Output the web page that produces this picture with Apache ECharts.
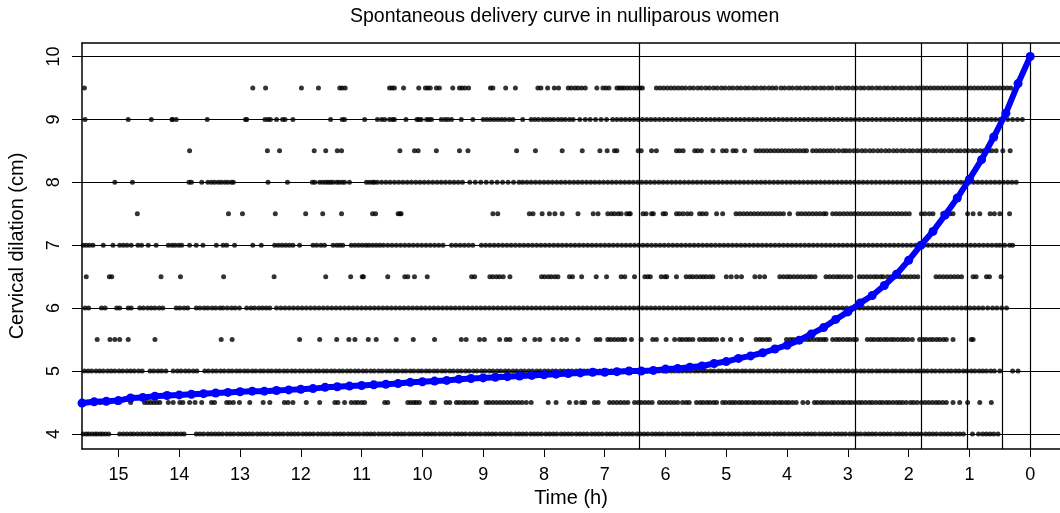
<!DOCTYPE html>
<html>
<head>
<meta charset="utf-8">
<script src="https://cdn.jsdelivr.net/npm/echarts@6/dist/echarts.min.js"></script>
<style>html,body{margin:0;padding:0;background:#fff;}#c{width:1060px;height:513px;}</style>
</head>
<body>
<div id="c"></div>
<script>
const titleText = "Spontaneous delivery curve in nulliparous women";
const xName = "Time (h)";
const yName = "Cervical dilation (cm)";
const xTicks = [0,1,2,3,4,5,6,7,8,9,10,11,12,13,14,15];
const yTicks = [4,5,6,7,8,9,10];
const hLines = [4,5,6,7,8,9,10];
const vLines = [6.43,2.88,1.80,1.04,0.46,0];

const curveT = [15.6,15.4,15.2,15.0,14.8,14.6,14.4,14.2,14.0,13.8,13.6,13.4,13.2,13.0,12.8,12.6,12.4,12.2,12.0,11.8,11.6,11.4,11.2,11.0,10.8,10.6,10.4,10.2,10.0,9.8,9.6,9.4,9.2,9.0,8.8,8.6,8.4,8.2,8.0,7.8,7.6,7.4,7.2,7.0,6.8,6.6,6.4,6.2,6.0,5.8,5.6,5.4,5.2,5.0,4.8,4.6,4.4,4.2,4.0,3.8,3.6,3.4,3.2,3.0,2.8,2.6,2.4,2.2,2.0,1.8,1.6,1.4,1.2,1.0,0.8,0.6,0.4,0.2,0.0];
const curveY = [4.49,4.51,4.52,4.53,4.57,4.58,4.60,4.61,4.62,4.63,4.64,4.65,4.66,4.67,4.68,4.68,4.69,4.70,4.71,4.72,4.74,4.75,4.76,4.77,4.78,4.79,4.80,4.82,4.83,4.84,4.85,4.87,4.88,4.89,4.90,4.91,4.92,4.93,4.94,4.95,4.96,4.97,4.98,4.98,4.99,5.00,5.00,5.01,5.03,5.04,5.06,5.08,5.12,5.15,5.20,5.24,5.29,5.35,5.41,5.49,5.59,5.69,5.82,5.94,6.08,6.20,6.36,6.54,6.76,7.00,7.22,7.48,7.75,8.05,8.36,8.72,9.10,9.57,10.0];

const d40 = [15.58,15.53,15.49,15.44,15.39,15.35,15.30,15.26,15.21,15.16,14.98,14.92,14.86,14.80,14.75,14.69,14.63,14.58,14.52,14.47,14.41,14.36,14.30,14.25,14.19,14.14,14.08,14.03,13.97,13.92,13.72,13.66,13.60,13.53,13.47,13.41,13.35,13.29,13.22,13.16,13.10,13.03,12.97,12.91,12.85,12.79,12.72,12.66,12.60,12.54,12.47,12.41,12.35,12.29,12.22,12.16,12.10,12.04,11.97,11.91,11.85,11.79,11.72,11.66,11.60,11.54,11.47,11.41,11.35,11.29,11.22,11.16,11.10,11.04,10.97,10.91,10.85,10.79,10.72,10.66,10.60,10.54,10.47,10.41,10.35,10.29,10.22,10.16,10.10,10.04,9.97,9.91,9.85,9.79,9.72,9.66,9.60,9.54,9.47,9.41,9.35,9.29,9.22,9.16,9.10,9.04,8.97,8.91,8.85,8.79,8.72,8.66,8.60,8.54,8.47,8.41,8.35,8.29,8.22,8.16,8.10,8.04,7.97,7.91,7.85,7.79,7.72,7.66,7.60,7.54,7.47,7.41,7.35,7.29,7.22,7.16,7.10,7.04,6.97,6.91,6.85,6.79,6.72,6.66,6.60,6.54,6.47,6.41,6.35,6.29,6.22,6.16,6.10,6.04,5.97,5.91,5.85,5.79,5.72,5.66,5.60,5.54,5.47,5.41,5.35,5.29,5.22,5.16,5.10,5.04,4.97,4.91,4.85,4.79,4.72,4.66,4.60,4.54,4.47,4.41,4.35,4.29,4.22,4.16,4.10,4.04,3.97,3.91,3.85,3.79,3.72,3.66,3.60,3.54,3.47,3.41,3.35,3.29,3.22,3.16,3.10,3.04,2.97,2.91,2.85,2.79,2.72,2.66,2.60,2.54,2.47,2.41,2.35,2.29,2.22,2.16,2.10,2.04,1.97,1.91,1.85,1.79,1.72,1.66,1.60,1.54,1.47,1.41,1.35,1.29,1.22,1.16,1.10,0.95,0.85,0.78,0.72,0.66,0.60,0.53];
const d45 = [15.50,15.30,15.02,14.80,14.57,14.52,14.47,14.42,14.37,14.32,14.18,14.10,13.99,13.94,13.83,13.74,13.63,13.47,13.42,13.22,13.17,13.11,13.01,12.84,12.62,12.51,12.27,12.21,12.13,11.91,11.69,11.44,11.39,11.28,11.17,11.11,11.06,11.00,10.95,10.62,10.57,10.24,10.19,10.14,10.10,10.05,9.85,9.80,9.61,9.55,9.44,9.39,9.33,9.28,9.22,9.16,9.11,8.95,8.90,8.84,8.78,8.72,8.66,8.60,8.54,8.48,8.42,8.36,8.29,8.21,7.93,7.80,7.58,7.47,7.38,7.33,7.17,7.11,6.92,6.86,6.80,6.74,6.68,6.62,6.51,6.45,6.40,6.34,6.28,6.22,6.10,6.04,5.98,5.92,5.86,5.80,5.72,5.66,5.61,5.49,5.43,5.38,5.32,5.27,5.21,5.16,5.06,5.01,4.95,4.90,4.85,4.79,4.74,4.68,4.63,4.57,4.52,4.46,4.41,4.35,4.30,4.24,4.19,4.13,4.08,4.02,3.97,3.91,3.85,3.74,3.66,3.55,3.50,3.44,3.39,3.33,3.27,3.22,3.16,3.10,3.05,2.99,2.94,2.88,2.82,2.77,2.71,2.65,2.60,2.54,2.48,2.43,2.37,2.32,2.26,2.20,2.15,2.10,2.04,1.97,1.92,1.86,1.79,1.73,1.67,1.61,1.55,1.50,1.44,1.38,1.27,1.16,1.03,0.83,0.64];
const d50 = [15.56,15.50,15.44,15.37,15.31,15.25,15.18,15.12,15.06,14.99,14.93,14.86,14.80,14.74,14.67,14.61,14.48,14.42,14.35,14.29,14.22,14.10,14.03,13.97,13.90,13.84,13.77,13.71,13.58,13.52,13.45,13.39,13.32,13.26,13.19,13.13,13.06,13.00,12.93,12.87,12.80,12.74,12.67,12.61,12.54,12.48,12.41,12.35,12.28,12.22,12.15,12.09,12.02,11.96,11.89,11.83,11.76,11.70,11.63,11.57,11.50,11.44,11.37,11.31,11.24,11.18,11.11,11.05,10.98,10.92,10.85,10.79,10.72,10.66,10.59,10.53,10.46,10.40,10.33,10.27,10.20,10.14,10.07,10.01,9.94,9.88,9.81,9.75,9.68,9.62,9.55,9.49,9.42,9.36,9.29,9.23,9.16,9.10,9.03,8.97,8.90,8.84,8.77,8.71,8.64,8.58,8.51,8.45,8.38,8.32,8.25,8.19,8.12,8.06,7.99,7.93,7.86,7.80,7.73,7.67,7.60,7.54,7.47,7.41,7.34,7.28,7.21,7.15,7.08,7.02,6.95,6.89,6.82,6.76,6.69,6.63,6.56,6.50,6.43,6.37,6.30,6.24,6.17,6.11,6.04,5.98,5.91,5.85,5.78,5.72,5.65,5.59,5.52,5.46,5.39,5.33,5.26,5.20,5.13,5.07,5.00,4.94,4.87,4.81,4.74,4.68,4.61,4.55,4.48,4.42,4.35,4.29,4.22,4.16,4.09,4.03,3.96,3.90,3.83,3.77,3.70,3.64,3.57,3.51,3.44,3.38,3.31,3.25,3.18,3.12,3.05,2.99,2.92,2.86,2.79,2.73,2.66,2.60,2.53,2.47,2.40,2.34,2.27,2.21,2.14,2.08,2.01,1.95,1.88,1.82,1.75,1.69,1.62,1.56,1.49,1.43,1.36,1.30,1.23,1.17,1.10,1.04,0.97,0.91,0.84,0.78,0.72,0.65,0.59,0.50,0.29,0.20];
const d55 = [15.35,15.14,15.06,14.98,14.84,14.40,13.31,13.13,12.02,11.69,11.41,11.21,11.11,10.89,10.76,10.43,10.15,9.80,9.36,9.28,9.06,8.98,8.73,8.62,8.56,8.32,8.15,8.07,7.85,7.71,7.63,7.44,7.14,7.08,6.95,6.90,6.84,6.78,6.72,6.67,6.56,6.40,6.21,6.15,5.99,5.85,5.77,5.72,5.66,5.61,5.55,5.44,5.38,5.33,5.27,5.22,5.16,5.06,4.93,4.75,4.51,4.45,4.40,4.34,4.29,4.01,3.95,3.90,3.84,3.78,3.73,3.67,3.62,3.56,3.50,3.45,3.40,3.36,3.25,3.19,3.14,3.08,3.02,2.97,2.91,2.86,2.68,2.62,2.57,2.51,2.46,2.40,2.35,2.29,2.24,2.18,2.12,2.07,2.01,1.94,1.82,1.76,1.71,1.65,1.60,1.54,1.49,1.43,1.38,1.27,0.97,0.94];
const d60 = [15.55,15.49,15.28,15.22,15.03,14.98,14.84,14.79,14.65,14.59,14.52,14.46,14.40,14.33,14.27,14.05,13.99,13.92,13.86,13.72,13.66,13.59,13.53,13.46,13.40,13.33,13.28,13.21,13.14,13.08,13.01,12.89,12.82,12.76,12.69,12.63,12.57,12.51,12.40,12.33,12.26,12.19,12.12,12.05,11.98,11.91,11.84,11.77,11.70,11.63,11.56,11.49,11.42,11.35,11.28,11.21,11.14,11.07,11.00,10.93,10.86,10.79,10.72,10.65,10.58,10.51,10.44,10.37,10.30,10.23,10.16,10.09,10.02,9.95,9.88,9.81,9.74,9.67,9.60,9.53,9.46,9.39,9.32,9.25,9.18,9.11,9.04,8.97,8.90,8.83,8.76,8.69,8.62,8.55,8.48,8.41,8.34,8.27,8.20,8.13,8.06,7.99,7.92,7.85,7.78,7.71,7.64,7.57,7.50,7.43,7.36,7.29,7.22,7.15,7.08,7.01,6.94,6.87,6.80,6.73,6.66,6.59,6.52,6.45,6.38,6.31,6.24,6.17,6.10,6.03,5.96,5.89,5.82,5.75,5.68,5.61,5.54,5.47,5.40,5.33,5.26,5.19,5.12,5.05,4.98,4.91,4.84,4.77,4.70,4.63,4.56,4.49,4.42,4.35,4.28,4.21,4.14,4.07,4.00,3.93,3.86,3.79,3.72,3.65,3.58,3.51,3.44,3.37,3.30,3.23,3.16,3.09,3.02,2.95,2.88,2.81,2.74,2.67,2.60,2.53,2.46,2.39,2.32,2.25,2.18,2.11,2.04,1.97,1.90,1.83,1.76,1.69,1.62,1.55,1.48,1.41,1.34,1.27,1.20,1.13,1.06,0.99,0.92,0.85,0.78,0.70,0.62,0.55,0.47,0.39];
const d65 = [15.53,15.15,15.11,14.30,13.98,13.27,12.44,11.59,11.18,10.99,10.97,10.57,10.29,10.24,10.13,9.92,9.19,9.14,8.89,8.84,8.78,8.73,8.67,8.56,8.04,7.99,7.93,7.88,7.82,7.77,7.58,7.53,7.38,7.14,6.97,6.73,6.67,6.51,6.34,6.29,6.25,6.07,6.01,5.98,5.82,5.66,5.60,5.55,5.49,5.43,5.38,5.33,5.27,5.22,5.00,4.92,4.83,4.75,4.53,4.45,4.37,4.12,4.06,4.00,3.95,3.89,3.83,3.77,3.71,3.65,3.60,3.54,3.36,3.30,3.24,3.18,3.13,3.07,3.01,2.95,2.81,2.75,2.69,2.63,2.57,2.52,2.46,2.42,2.35,2.29,2.22,2.15,2.09,2.03,1.97,1.91,1.85,1.55,1.49,1.43,1.37,1.31,1.25,1.19,1.13,0.94,0.89,0.72,0.67,0.48];
const d70 = [15.58,15.53,15.48,15.42,15.25,15.09,14.98,14.92,14.86,14.79,14.68,14.62,14.51,14.38,14.18,14.12,14.07,14.01,13.96,13.83,13.72,13.61,13.39,13.28,13.22,13.09,12.79,12.65,12.43,12.37,12.31,12.25,12.19,12.13,12.02,11.80,11.74,11.67,11.61,11.47,11.41,11.36,11.31,11.17,11.11,11.05,10.99,10.93,10.88,10.82,10.76,10.70,10.64,10.57,10.50,10.43,10.36,10.29,10.22,10.15,10.08,10.01,9.94,9.87,9.80,9.73,9.66,9.52,9.45,9.38,9.31,9.24,9.17,9.03,8.96,8.89,8.82,8.75,8.68,8.61,8.54,8.47,8.40,8.33,8.26,8.19,8.12,8.05,7.98,7.91,7.84,7.77,7.70,7.63,7.56,7.49,7.42,7.35,7.28,7.21,7.14,7.07,7.00,6.93,6.86,6.79,6.72,6.65,6.58,6.51,6.44,6.37,6.30,6.23,6.16,6.09,6.02,5.95,5.88,5.81,5.74,5.67,5.60,5.53,5.46,5.39,5.32,5.25,5.18,5.11,5.04,4.97,4.90,4.83,4.76,4.69,4.62,4.55,4.48,4.41,4.34,4.27,4.20,4.13,4.06,3.99,3.92,3.85,3.78,3.71,3.64,3.57,3.50,3.43,3.36,3.29,3.22,3.15,3.08,3.01,2.94,2.87,2.80,2.73,2.66,2.59,2.52,2.45,2.38,2.31,2.24,2.17,2.10,2.03,1.96,1.89,1.82,1.75,1.68,1.61,1.54,1.47,1.40,1.33,1.26,1.19,1.12,1.05,0.98,0.91,0.84,0.77,0.70,0.63,0.56,0.50,0.42,0.34,0.29];
const d75 = [14.69,13.19,12.96,12.42,11.92,11.64,11.33,10.82,10.77,10.40,10.37,10.35,8.84,8.76,8.24,8.18,8.03,7.91,7.82,7.70,7.44,7.19,7.11,6.95,6.89,6.84,6.78,6.73,6.64,6.60,6.58,6.37,6.32,6.23,6.20,6.04,6.00,5.82,5.77,5.71,5.64,5.58,5.44,5.39,5.33,5.16,5.06,4.84,4.78,4.72,4.66,4.60,4.54,4.48,4.42,4.36,4.30,4.24,4.18,4.12,4.06,3.96,3.82,3.76,3.70,3.64,3.58,3.52,3.46,3.40,3.36,3.25,3.19,3.13,3.07,3.01,2.95,2.89,2.83,2.77,2.71,2.65,2.59,2.53,2.47,2.41,2.35,2.29,2.23,2.17,2.11,2.05,1.99,1.79,1.73,1.66,1.60,1.44,1.38,1.32,1.27,1.03,0.94,0.83,0.66,0.59,0.50,0.34];
const d80 = [15.06,14.77,13.84,13.80,13.63,13.53,13.47,13.42,13.36,13.31,13.25,13.20,13.14,13.11,12.54,12.22,11.81,11.77,11.69,11.64,11.59,11.55,11.51,11.47,11.41,11.37,11.32,11.28,11.20,10.92,10.87,10.82,10.79,10.74,10.67,10.60,10.53,10.46,10.39,10.32,10.25,10.18,10.11,10.04,9.97,9.90,9.83,9.76,9.69,9.62,9.55,9.48,9.41,9.34,9.22,9.13,9.04,8.95,8.86,8.77,8.68,8.59,8.50,8.41,8.35,8.28,8.21,8.14,8.07,8.00,7.93,7.86,7.79,7.72,7.65,7.58,7.51,7.44,7.37,7.30,7.23,7.16,7.09,7.02,6.95,6.88,6.81,6.74,6.67,6.60,6.53,6.46,6.39,6.32,6.25,6.18,6.11,6.04,5.97,5.90,5.83,5.76,5.69,5.62,5.55,5.48,5.41,5.34,5.27,5.20,5.13,5.06,4.99,4.92,4.85,4.78,4.71,4.64,4.57,4.50,4.43,4.36,4.29,4.22,4.15,4.08,4.01,3.94,3.87,3.80,3.73,3.66,3.59,3.52,3.45,3.38,3.31,3.24,3.17,3.10,3.03,2.96,2.89,2.82,2.75,2.68,2.61,2.54,2.47,2.40,2.33,2.26,2.19,2.12,2.05,1.98,1.91,1.84,1.77,1.70,1.63,1.56,1.49,1.42,1.35,1.28,1.21,1.14,1.07,1.00,0.93,0.86,0.79,0.72,0.65,0.58,0.51,0.44,0.37,0.30,0.23];
const d85 = [13.83,12.55,12.35,11.78,11.59,11.40,11.33,10.37,10.13,10.07,9.77,9.39,9.25,8.45,8.14,7.70,7.37,7.08,6.96,6.84,6.80,6.45,6.40,6.23,6.15,5.82,5.77,5.71,5.52,5.47,5.41,5.22,5.06,5.00,4.89,4.84,4.70,4.51,4.45,4.39,4.33,4.27,4.21,4.15,4.09,4.03,3.97,3.91,3.85,3.79,3.73,3.68,3.58,3.52,3.46,3.40,3.34,3.28,3.22,3.15,3.08,3.03,2.97,2.90,2.84,2.77,2.71,2.64,2.58,2.51,2.45,2.38,2.32,2.25,2.19,2.12,2.06,1.99,1.93,1.86,1.80,1.73,1.67,1.60,1.54,1.47,1.41,1.34,1.28,1.21,1.15,1.08,1.02,0.95,0.89,0.82,0.76,0.69,0.63,0.56,0.45,0.33];
const d90 = [15.55,14.84,14.46,14.12,14.11,14.05,13.54,12.91,12.89,12.59,12.54,12.50,12.40,12.30,12.26,12.13,11.51,11.32,11.28,10.95,10.74,10.67,10.62,10.54,10.49,10.46,10.27,10.09,10.06,10.02,9.93,9.89,9.85,9.69,9.63,9.58,9.52,9.36,9.17,9.00,8.94,8.88,8.82,8.76,8.70,8.64,8.57,8.51,8.35,8.21,8.15,8.09,8.02,7.96,7.90,7.84,7.77,7.71,7.65,7.58,7.52,7.41,7.32,7.24,7.15,7.06,6.97,6.87,6.80,6.73,6.66,6.59,6.52,6.45,6.38,6.31,6.24,6.17,6.10,6.03,5.96,5.89,5.82,5.75,5.68,5.61,5.54,5.47,5.40,5.33,5.26,5.19,5.12,5.05,4.98,4.91,4.84,4.77,4.70,4.63,4.56,4.49,4.42,4.35,4.28,4.21,4.14,4.07,4.00,3.93,3.86,3.79,3.72,3.65,3.58,3.51,3.44,3.37,3.30,3.23,3.16,3.09,3.02,2.95,2.88,2.81,2.74,2.67,2.60,2.53,2.46,2.39,2.32,2.25,2.18,2.11,2.04,1.97,1.90,1.83,1.76,1.69,1.62,1.55,1.48,1.41,1.34,1.27,1.20,1.13,1.06,0.99,0.92,0.85,0.78,0.71,0.64,0.57,0.50,0.37,0.29,0.21,0.13];
const d95 = [15.56,12.79,12.58,11.99,11.71,11.36,11.32,11.27,10.54,10.50,10.46,10.31,10.06,9.95,9.91,9.87,9.77,9.72,9.50,9.39,9.35,9.30,9.24,8.88,8.84,8.63,8.47,8.10,8.05,7.94,7.83,7.76,7.60,7.55,7.49,7.44,7.38,7.32,7.13,7.03,6.98,6.93,6.80,6.76,6.72,6.68,6.63,6.58,6.52,6.47,6.42,6.38,6.15,6.09,6.03,5.97,5.91,5.85,5.79,5.73,5.67,5.60,5.54,5.47,5.41,5.34,5.28,5.21,5.15,5.08,5.02,4.95,4.89,4.82,4.76,4.69,4.63,4.56,4.50,4.43,4.37,4.30,4.24,4.18,4.10,4.04,3.97,3.91,3.84,3.78,3.71,3.65,3.58,3.52,3.45,3.39,3.32,3.26,3.18,3.12,3.05,2.99,2.92,2.86,2.79,2.73,2.66,2.60,2.53,2.47,2.40,2.34,2.27,2.21,2.14,2.08,2.01,1.95,1.88,1.82,1.76,1.70,1.64,1.58,1.52,1.46,1.40,1.34,1.28,1.22,1.16,1.10,1.04,0.98,0.92,0.86,0.80,0.74,0.68,0.62,0.56,0.50,0.44,0.38,0.32];

const levels = [4,4.5,5,5.5,6,6.5,7,7.5,8,8.5,9,9.5];
const levelData = [d40,d45,d50,d55,d60,d65,d70,d75,d80,d85,d90,d95];

const pts = [];
levels.forEach((lv, i) => levelData[i].forEach(t => pts.push([t, lv])));
const curve = curveT.map((t, i) => [t, curveY[i]]);

const FONT = 'Liberation Sans, Arial, sans-serif';
const XMIN = -0.49, XMAX = 15.6, YMIN = 3.76, YMAX = 10.215;
const chart = echarts.init(document.getElementById('c'), null, {renderer: 'canvas'});
chart.setOption({
  animation: false,
  backgroundColor: '#fff',
  title: {
    text: titleText, left: 345, top: 2,
    textStyle: {fontFamily: FONT, fontSize: 19.5, fontWeight: 'normal', color: '#000'}
  },
  grid: {left: 82, right: 0, top: 43, bottom: 64, show: false, outerBoundsMode: 'none', containLabel: false},
  xAxis: [{
    type: 'value', inverse: true, min: XMIN, max: XMAX, position: 'bottom',
    name: xName, nameLocation: 'middle', nameGap: 36,
    nameTextStyle: {fontFamily: FONT, fontSize: 20, color: '#000'},
    axisLine: {show: true, onZero: false, lineStyle: {color: '#000', width: 1.5}},
    axisTick: {show: true, customValues: xTicks, length: 8, lineStyle: {color: '#000', width: 1}},
    axisLabel: {customValues: xTicks, margin: 17, fontFamily: FONT, fontSize: 18, color: '#000'},
    splitLine: {show: false}
  }, {
    type: 'value', inverse: true, min: XMIN, max: XMAX, position: 'top',
    axisLine: {show: true, onZero: false, lineStyle: {color: '#000', width: 1.5}},
    axisTick: {show: false}, axisLabel: {show: false}, splitLine: {show: false}
  }],
  yAxis: {
    type: 'value', min: YMIN, max: YMAX, position: 'left',
    name: yName, nameLocation: 'middle', nameGap: 55, nameRotate: 90,
    nameTextStyle: {fontFamily: FONT, fontSize: 20, color: '#000'},
    axisLine: {show: true, onZero: false, lineStyle: {color: '#000', width: 1.5}},
    axisTick: {show: true, customValues: yTicks, length: 10, lineStyle: {color: '#000', width: 1}},
    axisLabel: {customValues: yTicks, rotate: 90, margin: 19, fontFamily: FONT, fontSize: 18, color: '#000'},
    splitLine: {show: false}
  },
  series: [
    {
      type: 'scatter', data: pts, symbol: 'circle', symbolSize: 5,
      itemStyle: {color: '#000'}, z: 2, silent: true,
      markLine: {
        silent: true, symbol: 'none', animation: false,
        label: {show: false},
        lineStyle: {color: '#000', type: 'solid', width: 1.2},
        data: hLines.map(v => ({yAxis: v})).concat(vLines.map(v => ({xAxis: v})))
      }
    },
    {
      type: 'line', data: curve, symbol: 'circle', symbolSize: 9, showSymbol: true,
      lineStyle: {color: '#0000ff', width: 6}, itemStyle: {color: '#0000ff'}, z: 5, silent: true
    }
  ]
});
</script>
</body>
</html>
